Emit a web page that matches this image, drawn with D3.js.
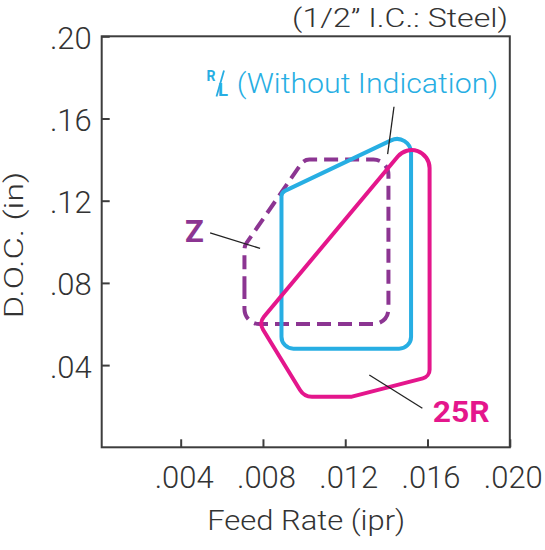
<!DOCTYPE html>
<html>
<head>
<meta charset="utf-8">
<script src="https://cdn.jsdelivr.net/npm/d3@7"></script>
<style>
  html, body { margin: 0; padding: 0; background: #fff; }
  svg { display: block; }
  text { font-family: Roboto, "Liberation Sans", Arial, sans-serif; }
</style>
</head>
<body>
<script>
// ---------------- DATA ----------------
const xTicks = [0.004, 0.008, 0.012, 0.016, 0.020];
const xTickLabels = [".004", ".008", ".012", ".016", ".020"];
const yTicks = [0.04, 0.08, 0.12, 0.16, 0.20];
const yTickLabels = [".04", ".08", ".12", ".16", ".20"];

// Region outlines: [feed rate (ipr), depth of cut (in)]
const seriesNames = ["Z", "R/L (Without Indication)", "25R"];
const zRegion = [[0.0071, 0.060], [0.0141, 0.060], [0.0141, 0.140], [0.0100, 0.140], [0.0071, 0.098]];
const rlRegion = [[0.0089, 0.048], [0.0152, 0.048], [0.0152, 0.154], [0.0089, 0.124]];
const r25Region = [[0.0078, 0.0606], [0.0161, 0.160], [0.0161, 0.0344], [0.0123, 0.0246], [0.0100, 0.0246]];

// Leader lines (data coords)
const zLeader = [[0.00543, 0.1044], [0.00786, 0.0968]];
const rlLeader = [[0.01437, 0.1657], [0.01406, 0.1427]];
const r25Leader = [[0.01317, 0.0352], [0.01575, 0.0190]];

const xLabel = "Feed Rate (ipr)";
const yLabel = "D.O.C. (in)";
const noteLabel = "(1/2\u201D I.C.: Steel)";

// ---------------- LAYOUT ----------------
const W = 545, H = 550;
const plot = { left: 101.7, right: 509.8, top: 36.3, bottom: 447.3 };
const colors = { z: "#8c3592", rl: "#27aee3", r25: "#e4168c", text: "#333333", frame: "#3d3d3d" };

const x = d3.scaleLinear().domain([0.00016, 0.020]).range([plot.left, plot.right]);
const y = d3.scaleLinear().domain([0, 0.20]).range([plot.bottom, plot.top]);

const svg = d3.select("body").append("svg").attr("width", W).attr("height", H);
svg.append("rect").attr("width", W).attr("height", H).attr("fill", "#fff");

// frame
svg.append("rect")
  .attr("x", plot.left).attr("y", plot.top)
  .attr("width", plot.right - plot.left).attr("height", plot.bottom - plot.top)
  .attr("fill", "none").attr("stroke", colors.frame).attr("stroke-width", 2);

const tickFont = 31;
function styleTicks(g) {
  g.attr("font-size", null).attr("font-family", null);
  g.select(".domain").remove();
  g.selectAll(".tick line").attr("stroke", colors.frame).attr("stroke-width", 2);
  g.selectAll(".tick text")
    .attr("fill", colors.text)
    .attr("font-size", tickFont)
    .attr("font-weight", 300)
    .attr("x", 0).attr("y", 0).attr("dy", null);
}

// x axis
const gx = svg.append("g").attr("transform", `translate(0,${plot.bottom})`)
  .call(d3.axisBottom(x).tickValues(xTicks).tickSize(-8).tickFormat((d, i) => xTickLabels[i]));
styleTicks(gx);
// y axis
const gy = svg.append("g").attr("transform", `translate(${plot.left},0)`)
  .call(d3.axisLeft(y).tickValues(yTicks).tickSize(-8).tickFormat((d, i) => yTickLabels[i]));
styleTicks(gy);

const refNode = gx.selectAll(".tick text").nodes()[0];
const tickScale = 59 / refNode.getComputedTextLength();
gx.selectAll(".tick text").attr("text-anchor", "middle")
  .attr("transform", `translate(3,41) scale(${tickScale},1)`);
gy.selectAll(".tick text").attr("text-anchor", "end")
  .attr("transform", `translate(-10,12) scale(${tickScale},1)`);

// generic fitted label
function label(str, px, py, opt) {
  const g = svg.append("g").attr("transform", `translate(${px},${py})` + (opt.rotate ? ` rotate(${opt.rotate})` : ""));
  const t = g.append("text").text(str)
    .attr("text-anchor", opt.anchor || "start")
    .attr("font-size", opt.size)
    .attr("font-weight", opt.weight || 300)
    .attr("fill", opt.color || colors.text);
  if (opt.width) {
    const s = opt.width / t.node().getComputedTextLength();
    t.attr("transform", `scale(${s},1)`);
  }
  return t;
}

label(xLabel, 306.2, 529.5, { anchor: "middle", size: 27.5, width: 198 });
label(yLabel, 23, 245, { anchor: "middle", size: 25.5, width: 146.6, rotate: -90 });
label(noteLabel, 508, 27, { anchor: "end", size: 26, width: 216 });

// ---------------- REGIONS ----------------
function roundedPath(pts, radii) {
  const p = d3.path();
  const n = pts.length;
  const a = pts[n - 1], b = pts[0];
  p.moveTo((a[0] + b[0]) / 2, (a[1] + b[1]) / 2);
  for (let i = 0; i < n; i++) {
    const c = pts[i], nx = pts[(i + 1) % n];
    p.arcTo(c[0], c[1], nx[0], nx[1], radii[i]);
  }
  p.closePath();
  return p.toString();
}
const toPx = d => [x(d[0]), y(d[1])];

svg.append("path")
  .attr("d", roundedPath(zRegion.map(toPx), [15, 15, 15, 10, 12]))
  .attr("fill", "none").attr("stroke", colors.z).attr("stroke-width", 4)
  .attr("stroke-dasharray", "14,7").attr("stroke-linejoin", "round");

svg.append("path")
  .attr("d", roundedPath(rlRegion.map(toPx), [12, 12, 14, 6]))
  .attr("fill", "none").attr("stroke", colors.rl).attr("stroke-width", 4)
  .attr("stroke-linejoin", "round");

svg.append("path")
  .attr("d", roundedPath(r25Region.map(toPx), [11, 18, 9, 4, 14]))
  .attr("fill", "none").attr("stroke", colors.r25).attr("stroke-width", 4)
  .attr("stroke-linejoin", "round");

// leader lines
const line = d3.line().x(d => x(d[0])).y(d => y(d[1]));
[zLeader, rlLeader, r25Leader].forEach(l => {
  svg.append("path").attr("d", line(l)).attr("fill", "none")
    .attr("stroke", "#222").attr("stroke-width", 1.3);
});

// series labels
label("Z", 185, 242, { size: 31, weight: 700, color: colors.z });
label("25R", 432.7, 421.7, { size: 30, weight: 700, color: colors.r25, width: 57 });

// R/L fraction label
label("R", 206.5, 81, { size: 14, weight: 700, color: colors.rl });
svg.append("line").attr("x1", 224).attr("y1", 70.5).attr("x2", 216.5).attr("y2", 96.5)
  .attr("stroke", colors.rl).attr("stroke-width", 1.8);
label("L", 218, 96, { size: 18.5, weight: 700, color: colors.rl });
label("(Without Indication)", 236.7, 93.3, { size: 28, color: colors.rl, width: 261.6 });
</script>
</body>
</html>
